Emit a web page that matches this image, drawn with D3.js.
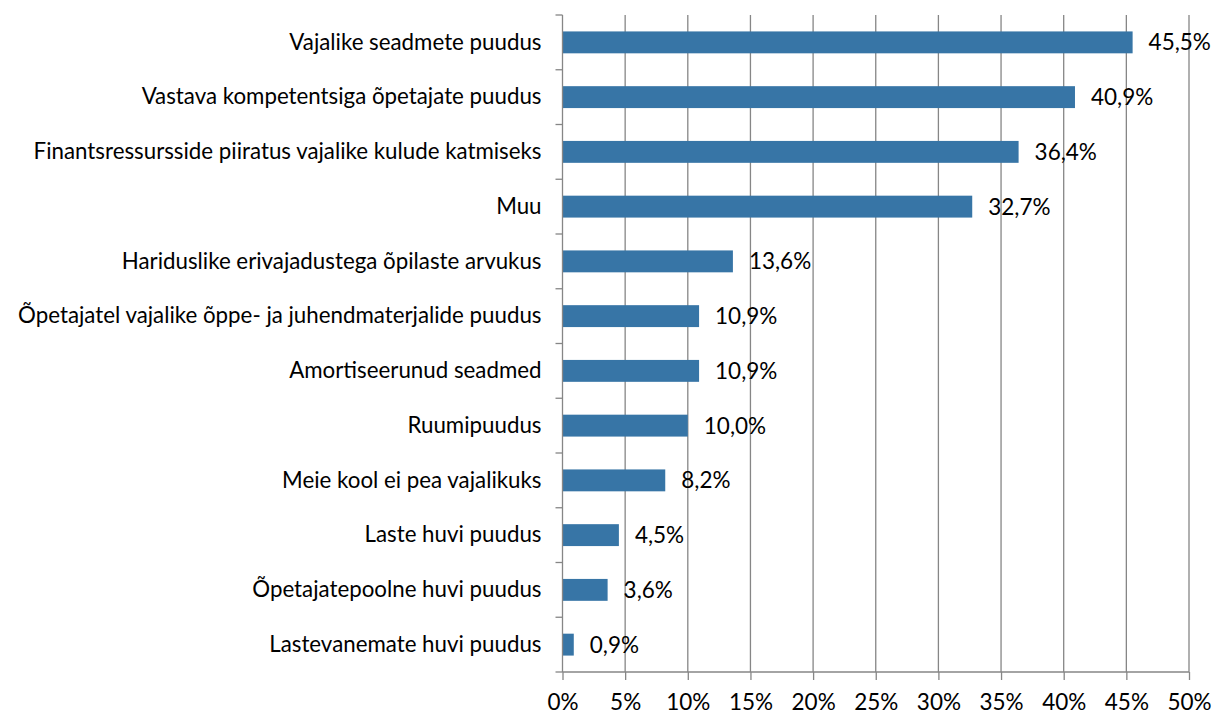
<!DOCTYPE html>
<html>
<head>
<meta charset="utf-8">
<script src="https://cdn.jsdelivr.net/npm/d3@7"></script>
<style>
  body { margin: 0; background: #fff; }
  text { font-family: Lato, "Open Sans", sans-serif; fill: #000; }
</style>
</head>
<body>
<div id="chart"></div>
<script>
// chart data
var categories = [
  "Vajalike seadmete puudus",
  "Vastava kompetentsiga õpetajate puudus",
  "Finantsressursside piiratus vajalike kulude katmiseks",
  "Muu",
  "Hariduslike erivajadustega õpilaste arvukus",
  "Õpetajatel vajalike õppe- ja juhendmaterjalide puudus",
  "Amortiseerunud seadmed",
  "Ruumipuudus",
  "Meie kool ei pea vajalikuks",
  "Laste huvi puudus",
  "Õpetajatepoolne huvi puudus",
  "Lastevanemate huvi puudus"
];
var values = [45.5, 40.9, 36.4, 32.7, 13.6, 10.9, 10.9, 10.0, 8.2, 4.5, 3.6, 0.9];
var xTicks = [0, 5, 10, 15, 20, 25, 30, 35, 40, 45, 50];

var svgWidth = 1217;
var svgHeight = 715;
var margin = { top: 15, right: 28, bottom: 43, left: 562.5 };
var width = svgWidth - margin.left - margin.right;
var height = svgHeight - margin.top - margin.bottom;

var svg = d3.select("#chart")
  .append("svg")
  .attr("width", svgWidth)
  .attr("height", svgHeight);

var chartGroup = svg.append("g")
  .attr("transform", `translate(${margin.left}, ${margin.top})`);

var xScale = d3.scaleLinear().domain([0, 50]).range([0, width]);
var yScale = d3.scaleBand().domain(categories).range([0, height]).paddingInner(0.6).paddingOuter(0.3);

// vertical gridlines
chartGroup.selectAll(".grid")
  .data(xTicks.slice(1))
  .enter()
  .append("line")
  .attr("x1", d => xScale(d))
  .attr("x2", d => xScale(d))
  .attr("y1", 0)
  .attr("y2", height)
  .attr("stroke", "#868686")
  .attr("stroke-width", 1.3);

// bars
chartGroup.selectAll(".bar")
  .data(values)
  .enter()
  .append("rect")
  .attr("x", 0)
  .attr("y", (d, i) => yScale(categories[i]))
  .attr("width", d => xScale(d))
  .attr("height", yScale.bandwidth())
  .attr("fill", "#3775A6");

// value labels
chartGroup.selectAll(".val")
  .data(values)
  .enter()
  .append("text")
  .attr("x", d => xScale(d) + 16)
  .attr("y", (d, i) => yScale(categories[i]) + yScale.bandwidth() / 2)
  .attr("dy", "0.35em")
  .attr("font-size", "22.5px")
  .text(d => d.toFixed(1).replace(".", ",") + "%");

// x axis
var bottomAxis = d3.axisBottom(xScale)
  .tickValues(xTicks)
  .tickSize(8)
  .tickFormat(d => d + "%");

var xAxis = chartGroup.append("g")
  .attr("transform", `translate(0, ${height})`)
  .call(bottomAxis);
xAxis.select(".domain").attr("stroke", "#868686").attr("stroke-width", 1.3).attr("d", `M0,0H${width}`);
xAxis.selectAll(".tick line").attr("stroke", "#868686").attr("stroke-width", 1.3);
xAxis.selectAll("text").attr("font-size", "22.5px").attr("y", 22).attr("fill", "#000");

// y axis
var leftAxis = d3.axisLeft(yScale).tickSize(0).tickPadding(21);
var yAxis = chartGroup.append("g").call(leftAxis);
yAxis.select(".domain").attr("stroke", "#868686").attr("stroke-width", 1.3).attr("d", `M0,0V${height}`);
yAxis.selectAll("text").attr("font-size", "22.3px").attr("fill", "#000");

// category boundary ticks on left axis
chartGroup.selectAll(".ytick")
  .data(d3.range(categories.length + 1))
  .enter()
  .append("line")
  .attr("x1", -7)
  .attr("x2", 0)
  .attr("y1", d => d * height / categories.length)
  .attr("y2", d => d * height / categories.length)
  .attr("stroke", "#868686")
  .attr("stroke-width", 1.3);
</script>
</body>
</html>
